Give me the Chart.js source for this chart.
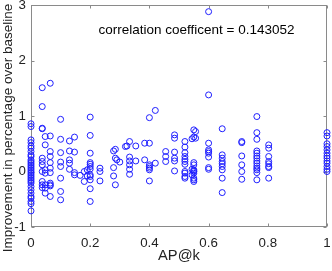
<!doctype html>
<html>
<head>
<meta charset="utf-8">
<title>AP@k vs improvement</title>
<script src="https://cdn.jsdelivr.net/npm/chart.js"></script>
<style>
  html, body { margin: 0; padding: 0; background: #fff; }
  #wrap { width: 332px; height: 271px; position: relative; }
</style>
</head>
<body>
<div id="wrap"><canvas id="chart-0"></canvas></div>
<script>
// AP@k column positions and the improvement values read at each of them
const apk = [0, 0.038, 0.048, 0.065, 0.1, 0.13, 0.147, 0.166, 0.18, 0.19,
             0.2, 0.233, 0.279, 0.285, 0.29, 0.3, 0.319, 0.324, 0.333, 0.354,
             0.384, 0.4, 0.42, 0.455, 0.485, 0.52, 0.544, 0.55, 0.556, 0.6,
             0.646, 0.712, 0.763, 0.803, 1];
const improvement = [
  [0.86, 0.81, 0.57, 0.52, 0.46, 0.42, 0.36, 0.30, 0.27, 0.21, 0.18, 0.15, 0.12, 0.09, 0.06, 0.03, 0.0,
   -0.03, -0.06, -0.09, -0.12, -0.15, -0.18, -0.21, -0.27, -0.33, -0.39, -0.45, -0.48, -0.54, -0.58, -0.71],
  [1.51, 1.17, 0.78, 0.77, 0.24, 0.18, 0.12, 0.0, -0.18, -0.24, -0.29],
  [0.63, 0.48, 0.03, -0.03, -0.24, -0.30, -0.39],
  [1.59, 0.64, 0.36, 0.27, 0.16, 0.06, -0.02, -0.21, -0.24, -0.26, -0.45],
  [0.94, 0.58, 0.34, 0.17, 0.09, -0.12, -0.36, -0.51],
  [0.55, 0.37, 0.21, 0.15, 0.04],
  [0.62, 0.35, -0.02, -0.06],
  [-0.07],
  [0.0, -0.18],
  [-0.08, 0.03],
  [0.98, 0.65, 0.33, 0.16, 0.13, 0.09, 0.045, -0.06, -0.09, -0.15, -0.31, -0.54],
  [0.06, 0.0, -0.17],
  [0.37, 0.07, -0.08],
  [0.40, 0.24, -0.24],
  [0.21],
  [0.17],
  [0.45],
  [0.46],
  [0.54, 0.26, 0.19, 0.12, 0.04, -0.05],
  [0.46, 0.19],
  [0.51, 0.21],
  [0.97, 0.51, 0.12, 0.09, 0.06, 0.03, -0.17],
  [1.10, 0.15],
  [0.36, 0.27, 0.18],
  [0.66, 0.60, 0.35, 0.24, 0.19, 0.01],
  [0.54, 0.44, 0.34, 0.27, 0.22, 0.18, 0.13, 0.0, -0.03, -0.09, -0.12],
  [0.59, 0.04, -0.06],
  [0.75, 0.62, 0.16, 0.12, 0.03, 0.01, 0.0, -0.03, -0.12, -0.15, -0.18],
  [0.72, 0.60],
  [2.88, 1.38, 0.51, 0.39, 0.36, 0.33, 0.26, 0.07, 0.04],
  [0.77, 0.30, 0.24, 0.18, 0.14, 0.09, 0.03, -0.12, -0.38],
  [0.54, 0.52, 0.28, 0.12, 0.0, -0.14],
  [0.99, 0.70, 0.58, 0.37, 0.33, 0.28, 0.24, 0.19, 0.15, 0.10, 0.06, 0.03, -0.02, -0.15],
  [0.48, 0.42, 0.27, 0.18, 0.14, 0.09, 0.07, -0.12],
  [0.70, 0.64, 0.50, 0.45, 0.39, 0.33, 0.28, 0.24, 0.19, 0.15, 0.09, 0.04, 0.0]
];
const xTicks = [0, 0.2, 0.4, 0.6, 0.8, 1];
const yTicks = [-1, 0, 1, 2, 3];
const corrText = 'correlation coefficent = 0.143052';
const yLabel = 'Improvement in percentage over baseline';

const points = [];
apk.forEach((x, i) => improvement[i].forEach(y => points.push({x: x, y: y})));

const FONT = '"Liberation Sans", Arial, sans-serif';
const AXIS = '#8a8a8a';

// box round the plot with inward ticks, the correlation note and the y label
const boxPlugin = {
  id: 'box',
  beforeDatasetsDraw(chart) {
    const {ctx, chartArea: a, scales: {x, y}} = chart;
    ctx.save();
    ctx.strokeStyle = AXIS;
    ctx.lineWidth = 1;
    const L = Math.round(a.left) + 0.5, R = Math.round(a.right) - 0.5;
    const T = Math.round(a.top) + 0.5, B = Math.round(a.bottom) - 0.5;
    ctx.strokeRect(L, T, R - L, B - T);
    ctx.beginPath();
    xTicks.forEach(v => {
      const px = Math.round(x.getPixelForValue(v)) + 0.5;
      ctx.moveTo(px, B); ctx.lineTo(px, B - 3);
      ctx.moveTo(px, T); ctx.lineTo(px, T + 3);
    });
    yTicks.forEach(v => {
      const py = Math.round(y.getPixelForValue(v)) + 0.5;
      ctx.moveTo(L, py); ctx.lineTo(L + 3, py);
      ctx.moveTo(R, py); ctx.lineTo(R - 3, py);
    });
    ctx.stroke();
    ctx.restore();
  },
  afterDraw(chart) {
    const {ctx, scales: {x, y}} = chart;
    ctx.save();
    ctx.fillStyle = '#000';
    ctx.font = '13.5px ' + FONT;
    ctx.textBaseline = 'middle';
    ctx.textAlign = 'left';
    ctx.fillText(corrText, x.getPixelForValue(0.228), y.getPixelForValue(2.55));

    ctx.translate(8, 128);
    ctx.rotate(-Math.PI / 2);
    ctx.textAlign = 'center';
    ctx.fillStyle = '#222';
    ctx.fillText(yLabel, 0, 0);
    ctx.restore();
  }
};

window.addEventListener('load', () => {
  const ctx = document.querySelector('canvas#chart-0');
  window.myChart0 = new Chart(ctx, {
    type: 'scatter',
    data: {
      datasets: [{
        data: points,
        clip: false,
        pointStyle: 'circle',
        pointRadius: 3,
        borderWidth: 1,
        borderColor: '#1f1fff',
        backgroundColor: 'rgba(0,0,0,0)'
      }]
    },
    options: {
      animation: false,
      responsive: true,
      maintainAspectRatio: false,
      layout: { padding: { top: 5, right: 4, left: 0, bottom: 0 } },
      plugins: { legend: { display: false }, tooltip: { enabled: false } },
      scales: {
        x: {
          type: 'linear', min: 0, max: 1,
          grid: { display: false, drawTicks: false },
          border: { display: false },
          afterBuildTicks: s => { s.ticks = xTicks.map(v => ({value: v})); },
          ticks: { padding: 8, color: '#222', font: { family: FONT, size: 13.3 },
                   maxRotation: 0, callback: v => String(v) },
          title: { display: true, text: 'AP@k', color: '#222',
                   font: { family: FONT, size: 14.7 }, padding: { top: 0, bottom: 6 } },
          afterFit: s => { s.height = 44; s.paddingLeft = 0; s.paddingRight = 0; }
        },
        y: {
          type: 'linear', min: -1, max: 3,
          grid: { display: false, drawTicks: false },
          border: { display: false },
          afterBuildTicks: s => { s.ticks = yTicks.map(v => ({value: v})); },
          ticks: { padding: 5, color: '#222', font: { family: FONT, size: 13.3 } },
          afterFit: s => { s.width = 31; s.paddingTop = 0; s.paddingBottom = 0; }
        }
      }
    },
    plugins: [boxPlugin]
  });
});
</script>
</body>
</html>
